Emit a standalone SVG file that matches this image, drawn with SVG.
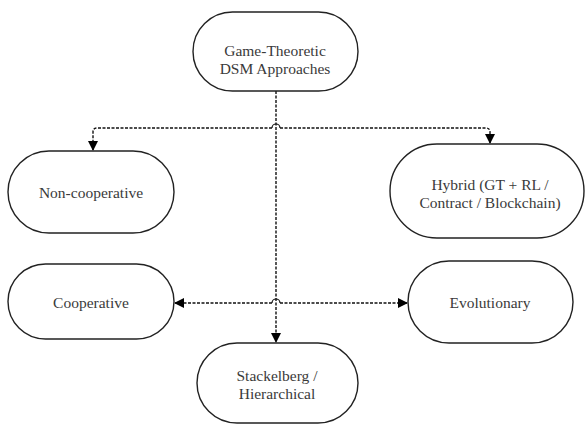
<svg xmlns="http://www.w3.org/2000/svg" width="586" height="425" viewBox="0 0 586 425">
<defs>
<marker id="ah" markerWidth="10" markerHeight="10" refX="9" refY="5" orient="auto" markerUnits="userSpaceOnUse">
<path d="M0,0 L10,5 L0,10 Z" fill="#000"/>
</marker>
<style>
.node{fill:#fff;stroke:#222;stroke-width:1.4}
.lbl{font-family:"Liberation Serif","Times New Roman",serif;font-size:15.5px;fill:#3a3a3a;text-anchor:middle}
.con{fill:none;stroke:#111;stroke-width:1.4;stroke-dasharray:3 1.5}
</style>
</defs>
<rect width="586" height="425" fill="#fff"/>
<g id="connectors">
<path class="con" d="M276,91 V342" marker-end="url(#ah)"/>
<path class="con" d="M272,128 H97 Q93,128 93,132 V150" marker-end="url(#ah)"/>
<path class="con" d="M280,128 H486 Q490,128 490,132 V143" marker-end="url(#ah)"/>
<path class="con" d="M272,303 H175" marker-end="url(#ah)"/>
<path class="con" d="M280,303 H407" marker-end="url(#ah)"/>
<path d="M272,128 A4,4 0 0 1 280,128" fill="none" stroke="#111" stroke-width="1.2"/>
<path d="M272,303 A4,4 0 0 1 280,303" fill="none" stroke="#111" stroke-width="1.2"/>
</g>
<g id="root">
<rect class="node" x="193" y="12" width="165" height="79" rx="39.5"/>
<text class="lbl" x="275" y="56">Game-Theoretic</text>
<text class="lbl" x="275" y="74">DSM Approaches</text>
</g>
<g id="noncoop">
<rect class="node" x="8" y="151" width="166" height="82" rx="41"/>
<text class="lbl" x="91" y="198">Non-cooperative</text>
</g>
<g id="hybrid">
<rect class="node" x="390" y="144" width="194" height="94" rx="47"/>
<text class="lbl" x="490" y="190">Hybrid (GT + RL /</text>
<text class="lbl" x="490" y="208">Contract / Blockchain)</text>
</g>
<g id="coop">
<rect class="node" x="8" y="264" width="166" height="75" rx="37.5"/>
<text class="lbl" x="91" y="308">Cooperative</text>
</g>
<g id="evol">
<rect class="node" x="408" y="261" width="165" height="82" rx="41"/>
<text class="lbl" x="490" y="308">Evolutionary</text>
</g>
<g id="stackelberg">
<rect class="node" x="197" y="343" width="161" height="80" rx="40"/>
<text class="lbl" x="277" y="381">Stackelberg /</text>
<text class="lbl" x="277" y="399">Hierarchical</text>
</g>
</svg>
